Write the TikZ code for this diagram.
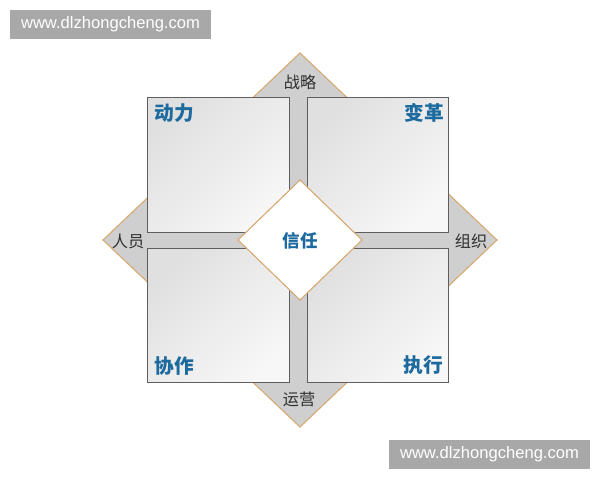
\documentclass[tikz,border=0pt]{standalone}
\usepackage{fontspec}
\setmainfont{Liberation Sans}
\newfontfamily\cjk{Noto Sans CJK SC}
\definecolor{tanline}{HTML}{D6AA74}
\definecolor{frame}{HTML}{CFCFCF}
\definecolor{cellline}{HTML}{5E5E5E}
\definecolor{cellgray}{HTML}{E0E0E0}
\definecolor{cellwhite}{HTML}{F7F7F7}
\definecolor{labelblue}{HTML}{1C6A9E}
\definecolor{labelgray}{HTML}{2E2E2E}
\definecolor{markgray}{HTML}{A8A8A8}
\begin{document}
\begin{tikzpicture}[x=0.025cm, y=-0.025cm,
  cell/.style={rectangle, draw=cellline, line width=0.7pt, left color=cellgray, right color=cellwhite, shading angle=45, minimum width=3.525cm, minimum height=3.35cm},
  corner/.style={font=\cjk\bfseries\fontsize{14}{16}\selectfont, text=labelblue},
  side/.style={font=\cjk\fontsize{11.5}{13}\selectfont, text=labelgray},
  watermark/.style={fill=markgray, text=white, font=\fontsize{11.8}{14}\selectfont, minimum width=5.025cm, minimum height=0.725cm, inner sep=0pt}]

\useasboundingbox (0,0) rectangle (600,480);

% Outer diamond
\coordinate (N) at (300,53);
\coordinate (E) at (497,240);
\coordinate (S) at (300,427);
\coordinate (W) at (103,240);
\draw[tanline, line width=0.8pt, fill=frame] (N) -- (E) -- (S) -- (W) -- cycle;

% Four squares
\node[cell] (TL) at (218.5,165) {};
\node[cell] (TR) at (378,165) {};
\node[cell] (BL) at (218.5,315.5) {};
\node[cell] (BR) at (378,315.5) {};

% Centre diamond
\coordinate (cN) at (300,180);
\coordinate (cE) at (362,240);
\coordinate (cS) at (300,300);
\coordinate (cW) at (238,240);
\draw[tanline, line width=0.8pt, fill=white] (cN) -- (cE) -- (cS) -- (cW) -- cycle;
\node[corner, font=\cjk\bfseries\fontsize{12.5}{14}\selectfont] (trust) at (300,241) {信任};

% Square labels
\node[corner] (power) at (174,113) {动力};
\node[corner] (change) at (424,113) {变革};
\node[corner] (team) at (174,366) {协作};
\node[corner] (exec) at (423,365) {执行};

% Side labels
\node[side] (strategy) at (300,82) {战略};
\node[side] (people) at (128,241) {人员};
\node[side] (org) at (471,241) {组织};
\node[side] (ops) at (299,399) {运营};

% Watermarks
\node[watermark] (markA) at (110.5,24.5) {www.dlzhongcheng.com};
\node[watermark] (markB) at (489.5,454.5) {www.dlzhongcheng.com};

\end{tikzpicture}
\end{document}
